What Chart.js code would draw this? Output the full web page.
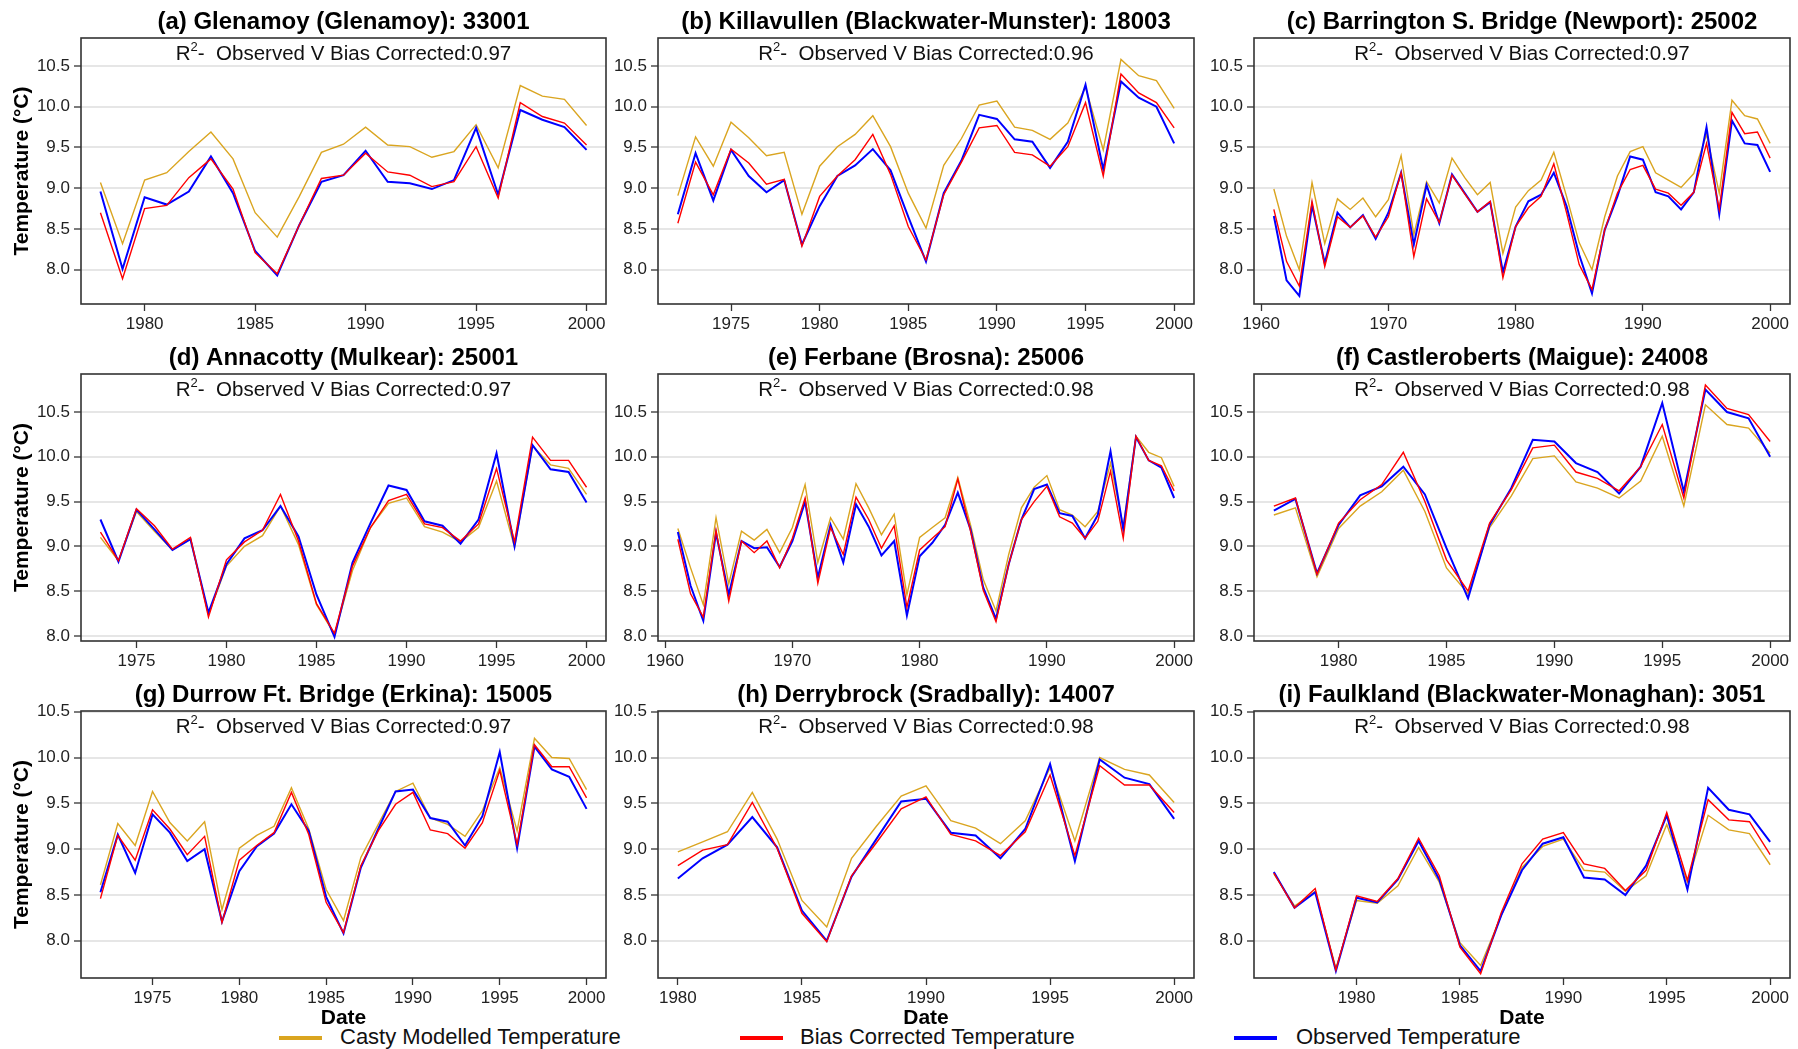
<!DOCTYPE html>
<html>
<head>
<meta charset="utf-8">
<script src="https://cdn.jsdelivr.net/npm/chart.js@4"></script>
<style>
  body { margin: 0; background: #fff; width: 1798px; height: 1049px; position: relative; overflow: hidden;
         font-family: "Liberation Sans", Arial, sans-serif; }
  canvas.panel { position: absolute; }
  .sw { position: absolute; height: 4px; top: 1036px; }
  .lt { position: absolute; top: 1024px; font-size: 22px; line-height: 26px; color: #111; white-space: nowrap; }
</style>
</head>
<body>
<div class="sw" style="left:279px;width:43px;background:#DAA520"></div>
<div class="lt" style="left:340px">Casty Modelled Temperature</div>
<div class="sw" style="left:740px;width:43px;background:#FF0000"></div>
<div class="lt" style="left:800px">Bias Corrected Temperature</div>
<div class="sw" style="left:1234px;width:43px;background:#0000FF"></div>
<div class="lt" style="left:1296px">Observed Temperature</div>
<script>
/*------------------------------*/
/*   DATA (annual mean, deg C)  */
/*------------------------------*/
// (a) Glenamoy
var startA = 1978
var castyA = [9.07, 8.32, 9.10, 9.19, 9.45, 9.69, 9.36, 8.70, 8.40, 8.90, 9.44, 9.54, 9.75, 9.53, 9.51, 9.38, 9.45, 9.78, 9.25, 10.26, 10.13, 10.09, 9.77]
var biasA  = [8.70, 7.89, 8.75, 8.79, 9.13, 9.36, 8.99, 8.21, 7.95, 8.55, 9.12, 9.16, 9.43, 9.20, 9.16, 9.02, 9.08, 9.51, 8.88, 10.05, 9.88, 9.80, 9.53]
var obsA   = [8.96, 8.01, 8.89, 8.80, 8.96, 9.39, 8.94, 8.23, 7.93, 8.55, 9.08, 9.16, 9.46, 9.08, 9.06, 8.99, 9.10, 9.74, 8.92, 9.96, 9.84, 9.75, 9.47]
// (b) Killavullen
var startB = 1972
var castyB = [8.91, 9.63, 9.27, 9.81, 9.62, 9.40, 9.44, 8.68, 9.27, 9.51, 9.66, 9.89, 9.51, 8.94, 8.51, 9.28, 9.61, 10.02, 10.07, 9.75, 9.71, 9.60, 9.80, 10.24, 9.47, 10.58, 10.38, 10.32, 9.98]
var biasB  = [8.57, 9.32, 8.92, 9.48, 9.31, 9.05, 9.11, 8.29, 8.90, 9.15, 9.35, 9.66, 9.17, 8.53, 8.12, 8.92, 9.32, 9.74, 9.77, 9.44, 9.41, 9.27, 9.51, 10.05, 9.15, 10.40, 10.17, 10.05, 9.74]
var obsB   = [8.68, 9.43, 8.85, 9.47, 9.15, 8.95, 9.10, 8.31, 8.78, 9.15, 9.28, 9.48, 9.22, 8.65, 8.10, 8.94, 9.34, 9.90, 9.85, 9.60, 9.57, 9.25, 9.57, 10.27, 9.23, 10.31, 10.11, 10.00, 9.55]
// (c) Barrington S. Bridge
var startC = 1961
var castyC = [8.99, 8.41, 8.00, 9.07, 8.32, 8.87, 8.74, 8.88, 8.65, 8.86, 9.40, 8.43, 9.08, 8.82, 9.37, 9.13, 8.92, 9.07, 8.20, 8.77,
              8.97, 9.10, 9.44, 8.90, 8.33, 8.00, 8.65, 9.15, 9.45, 9.51, 9.19, 9.10, 9.01, 9.18, 9.66, 8.94, 10.08, 9.89, 9.85, 9.55]
var biasC  = [8.74, 8.10, 7.80, 8.84, 8.04, 8.65, 8.52, 8.66, 8.40, 8.65, 9.19, 8.16, 8.87, 8.58, 9.16, 8.93, 8.71, 8.84, 7.90, 8.53,
              8.76, 8.90, 9.30, 8.70, 8.06, 7.76, 8.49, 8.94, 9.23, 9.28, 8.99, 8.94, 8.79, 8.95, 9.55, 8.74, 9.93, 9.67, 9.69, 9.37]
var obsC   = [8.66, 7.87, 7.68, 8.79, 8.08, 8.70, 8.52, 8.67, 8.38, 8.70, 9.19, 8.31, 9.04, 8.57, 9.17, 8.94, 8.71, 8.83, 7.97, 8.53,
              8.84, 8.92, 9.19, 8.78, 8.18, 7.71, 8.49, 8.90, 9.39, 9.35, 8.95, 8.90, 8.74, 8.95, 9.75, 8.68, 9.83, 9.55, 9.53, 9.20]
// (d) Annacotty
var startD = 1973
var castyD = [9.10, 8.84, 9.39, 9.17, 8.96, 9.08, 8.24, 8.78, 9.00, 9.12, 9.45, 9.02, 8.35, 8.02, 8.73, 9.21, 9.48, 9.54, 9.22, 9.16, 9.05, 9.21, 9.73, 8.99, 10.12, 9.91, 9.87, 9.58]
var biasD  = [9.16, 8.84, 9.42, 9.23, 8.97, 9.10, 8.21, 8.85, 9.05, 9.18, 9.58, 9.06, 8.36, 8.03, 8.78, 9.21, 9.51, 9.58, 9.25, 9.21, 9.06, 9.25, 9.87, 9.05, 10.22, 9.96, 9.96, 9.66]
var obsD   = [9.30, 8.83, 9.41, 9.19, 8.96, 9.08, 8.26, 8.80, 9.09, 9.18, 9.45, 9.11, 8.46, 7.99, 8.82, 9.26, 9.68, 9.63, 9.28, 9.23, 9.03, 9.30, 10.04, 9.00, 10.13, 9.86, 9.83, 9.49]
// (e) Ferbane
var startE = 1961
var castyE = [9.20, 8.76, 8.35, 9.32, 8.58, 9.17, 9.07, 9.19, 8.93, 9.21, 9.69, 8.82, 9.32, 9.08, 9.70, 9.43, 9.13, 9.36, 8.46, 9.10,
              9.21, 9.32, 9.77, 9.24, 8.63, 8.28, 8.91, 9.43, 9.66, 9.79, 9.41, 9.35, 9.22, 9.39, 9.93, 9.22, 10.23, 10.05, 9.99, 9.67]
var biasE  = [9.08, 8.47, 8.21, 9.18, 8.39, 9.06, 8.93, 9.06, 8.76, 9.09, 9.54, 8.59, 9.21, 8.91, 9.55, 9.30, 8.98, 9.23, 8.32, 8.96,
              9.09, 9.22, 9.75, 9.17, 8.51, 8.16, 8.80, 9.30, 9.50, 9.67, 9.33, 9.26, 9.09, 9.28, 9.84, 9.09, 10.23, 9.96, 9.90, 9.62]
var obsE   = [9.16, 8.56, 8.17, 9.15, 8.46, 9.06, 8.98, 8.99, 8.77, 9.06, 9.50, 8.65, 9.24, 8.82, 9.47, 9.22, 8.90, 9.06, 8.23, 8.89,
              9.04, 9.24, 9.60, 9.19, 8.54, 8.19, 8.80, 9.30, 9.64, 9.69, 9.37, 9.34, 9.09, 9.35, 10.06, 9.19, 10.22, 9.96, 9.88, 9.54]
// (f) Castleroberts
var startF = 1977
var castyF = [9.35, 9.43, 8.66, 9.20, 9.45, 9.61, 9.85, 9.39, 8.76, 8.47, 9.21, 9.56, 9.98, 10.01, 9.72, 9.65, 9.54, 9.73, 10.23, 9.45, 10.58, 10.36, 10.32, 10.04]
var biasF  = [9.45, 9.54, 8.69, 9.26, 9.52, 9.69, 10.05, 9.50, 8.85, 8.50, 9.26, 9.63, 10.10, 10.13, 9.83, 9.76, 9.62, 9.89, 10.36, 9.54, 10.80, 10.54, 10.47, 10.17]
var obsF   = [9.40, 9.53, 8.70, 9.24, 9.57, 9.67, 9.89, 9.58, 8.98, 8.42, 9.24, 9.65, 10.19, 10.17, 9.93, 9.83, 9.59, 9.89, 10.60, 9.61, 10.75, 10.50, 10.43, 10.00]
// (g) Durrow Ft. Bridge
var startG = 1972
var castyG = [8.61, 9.28, 9.04, 9.63, 9.29, 9.09, 9.30, 8.34, 9.01, 9.15, 9.25, 9.67, 9.22, 8.56, 8.22, 8.91, 9.27, 9.63, 9.72, 9.34, 9.27, 9.14, 9.42, 9.89, 9.20, 10.21, 10.00, 9.99, 9.65]
var biasG  = [8.46, 9.15, 8.88, 9.43, 9.22, 8.94, 9.14, 8.20, 8.88, 9.04, 9.18, 9.62, 9.16, 8.42, 8.09, 8.82, 9.20, 9.49, 9.62, 9.21, 9.17, 9.01, 9.29, 9.86, 9.05, 10.14, 9.90, 9.90, 9.56]
var obsG   = [8.53, 9.16, 8.74, 9.38, 9.18, 8.87, 9.00, 8.21, 8.76, 9.03, 9.17, 9.49, 9.20, 8.48, 8.08, 8.80, 9.22, 9.63, 9.65, 9.34, 9.30, 9.04, 9.36, 10.06, 9.01, 10.12, 9.87, 9.79, 9.44]
// (h) Derrybrock
var startH = 1980
var castyH = [8.97, 9.08, 9.19, 9.62, 9.11, 8.44, 8.15, 8.90, 9.25, 9.58, 9.69, 9.31, 9.23, 9.06, 9.31, 9.89, 9.09, 10.00, 9.87, 9.81, 9.51]
var biasH  = [8.82, 8.99, 9.05, 9.51, 9.01, 8.30, 7.99, 8.71, 9.07, 9.44, 9.57, 9.16, 9.09, 8.93, 9.19, 9.81, 8.93, 9.91, 9.70, 9.70, 9.40]
var obsH   = [8.68, 8.90, 9.05, 9.35, 9.02, 8.33, 8.00, 8.70, 9.11, 9.52, 9.55, 9.18, 9.15, 8.90, 9.22, 9.93, 8.87, 9.98, 9.78, 9.71, 9.33]
// (i) Faulkland
var startI = 1976
var castyI = [8.73, 8.38, 8.54, 7.70, 8.44, 8.41, 8.60, 9.02, 8.64, 7.98, 7.73, 8.28, 8.80, 9.03, 9.11, 8.77, 8.75, 8.54, 8.71, 9.27, 8.64, 9.37, 9.21, 9.17, 8.83]
var biasI  = [8.74, 8.36, 8.57, 7.68, 8.49, 8.43, 8.68, 9.12, 8.71, 7.93, 7.64, 8.31, 8.84, 9.11, 9.18, 8.84, 8.79, 8.55, 8.77, 9.40, 8.66, 9.54, 9.32, 9.30, 8.94]
var obsI   = [8.75, 8.36, 8.53, 7.67, 8.47, 8.42, 8.67, 9.09, 8.67, 7.95, 7.67, 8.28, 8.77, 9.06, 9.13, 8.69, 8.67, 8.50, 8.82, 9.37, 8.56, 9.67, 9.43, 9.38, 9.08]

// tick labels
var yTicks = [8.0, 8.5, 9.0, 9.5, 10.0, 10.5]
var ticks1980 = [1980, 1985, 1990, 1995, 2000]
var ticks1975 = [1975, 1980, 1985, 1990, 1995, 2000]
var ticks1960 = [1960, 1970, 1980, 1990, 2000]
var r2Values = ['0.97', '0.96', '0.97', '0.97', '0.98', '0.98', '0.97', '0.98', '0.98']
var titles = [
  '(a) Glenamoy (Glenamoy): 33001',
  '(b) Killavullen (Blackwater-Munster): 18003',
  '(c) Barrington S. Bridge (Newport): 25002',
  '(d) Annacotty (Mulkear): 25001',
  '(e) Ferbane (Brosna): 25006',
  '(f) Castleroberts (Maigue): 24008',
  '(g) Durrow Ft. Bridge (Erkina): 15005',
  '(h) Derrybrock (Sradbally): 14007',
  '(i) Faulkland (Blackwater-Monaghan): 3051'
]

/*------------------------------*/
/*           LAYOUT             */
/*------------------------------*/
var FONT = '"Liberation Sans", Arial, sans-serif'
var COLS = [[81, 606], [658, 1194], [1254, 1790]]
var ROWS = [[38, 304], [374, 641], [711, 978]]
var YRANGE = [[7.58, 10.843], [7.944, 10.924], [7.594, 10.508]]

var panels = [
  {start: startA, casty: castyA, bias: biasA, obs: obsA, xTicks: ticks1980},
  {start: startB, casty: castyB, bias: biasB, obs: obsB, xTicks: ticks1975},
  {start: startC, casty: castyC, bias: biasC, obs: obsC, xTicks: ticks1960},
  {start: startD, casty: castyD, bias: biasD, obs: obsD, xTicks: ticks1975},
  {start: startE, casty: castyE, bias: biasE, obs: obsE, xTicks: ticks1960},
  {start: startF, casty: castyF, bias: biasF, obs: obsF, xTicks: ticks1980},
  {start: startG, casty: castyG, bias: biasG, obs: obsG, xTicks: ticks1975},
  {start: startH, casty: castyH, bias: biasH, obs: obsH, xTicks: ticks1980},
  {start: startI, casty: castyI, bias: biasI, obs: obsI, xTicks: ticks1980}
]

function toPoints(start, values) {
  return values.map(function (v, i) { return {x: start + i, y: v} })
}

// box, title, R2 text, axis titles
var deco = {
  id: 'deco',
  afterDatasetsDraw: function (chart, args, o) {
    var ctx = chart.ctx, a = chart.chartArea
    var cx = (a.left + a.right) / 2
    ctx.save()
    ctx.strokeStyle = '#333'
    ctx.lineWidth = 1.6
    ctx.strokeRect(a.left, a.top, a.right - a.left, a.bottom - a.top)

    ctx.fillStyle = '#000'
    ctx.textAlign = 'center'
    ctx.textBaseline = 'alphabetic'
    ctx.font = 'bold 24px ' + FONT
    ctx.fillText(o.title, cx, a.top - 9)

    // R² - Observed V Bias Corrected
    var base = a.top + 22
    var rest = '-  Observed V Bias Corrected:' + o.r2
    ctx.font = '20.5px ' + FONT
    var wR = ctx.measureText('R').width
    var wRest = ctx.measureText(rest).width
    ctx.font = '13px ' + FONT
    var w2 = ctx.measureText('2').width
    var x = cx - (wR + w2 + wRest) / 2
    ctx.textAlign = 'left'
    ctx.fillStyle = '#111'
    ctx.font = '20.5px ' + FONT
    ctx.fillText('R', x, base)
    x += wR
    ctx.font = '13px ' + FONT
    ctx.fillText('2', x, base - 9)
    x += w2
    ctx.font = '20.5px ' + FONT
    ctx.fillText(rest, x, base)

    ctx.fillStyle = '#000'
    ctx.textAlign = 'center'
    ctx.font = 'bold 21px ' + FONT
    if (o.yTitle) {
      ctx.save()
      ctx.translate(22, (a.top + a.bottom) / 2)
      ctx.rotate(-Math.PI / 2)
      ctx.textBaseline = 'middle'
      ctx.fillText('Temperature (\u00B0C)', 0, 0)
      ctx.restore()
    }
    if (o.date) {
      ctx.fillText('Date', cx, a.bottom + 46)
    }
    ctx.restore()
  }
}

Chart.defaults.font.family = FONT
Chart.defaults.color = '#222'

panels.forEach(function (p, k) {
  var row = Math.floor(k / 3), col = k % 3
  var yw = col === 0 ? COLS[0][0] : 64
  var topSpace = 40, rightPad = 24
  var xh = row === 2 ? 56 : 32
  var plotW = COLS[col][1] - COLS[col][0]
  var plotH = ROWS[row][1] - ROWS[row][0]

  var cv = document.createElement('canvas')
  cv.className = 'panel'
  cv.width = yw + plotW + rightPad
  cv.height = topSpace + plotH + xh
  cv.style.left = (COLS[col][0] - yw) + 'px'
  cv.style.top = (ROWS[row][0] - topSpace) + 'px'
  document.body.appendChild(cv)

  var end = p.start + p.casty.length - 1
  var span = end - p.start

  var data_panel = {
    datasets: [
      {label: 'Bias Corrected Temperature', data: toPoints(p.start, p.bias),
       borderColor: '#FF0000', borderWidth: 1.4, pointRadius: 0, order: 0},
      {label: 'Observed Temperature', data: toPoints(p.start, p.obs),
       borderColor: '#0000FF', borderWidth: 2, pointRadius: 0, order: 1},
      {label: 'Casty Modelled Temperature', data: toPoints(p.start, p.casty),
       borderColor: '#DAA520', borderWidth: 1.4, pointRadius: 0, order: 2}
    ]
  }

  new Chart(cv.getContext('2d'), {
    type: 'line',
    data: data_panel,
    options: {
      responsive: false,
      animation: false,
      layout: {padding: {top: topSpace, right: rightPad, left: 0, bottom: 0}},
      plugins: {
        legend: {display: false},
        tooltip: {enabled: false},
        deco: {title: titles[k], r2: r2Values[k], yTitle: col === 0, date: row === 2}
      },
      scales: {
        x: {
          type: 'linear',
          min: p.start - 0.04 * span,
          max: end + 0.04 * span,
          afterBuildTicks: function (s) { s.ticks = p.xTicks.map(function (v) { return {value: v} }) },
          afterFit: function (s) { s.height = xh },
          grid: {drawOnChartArea: false, tickColor: '#333', tickWidth: 1.3, tickLength: 7},
          border: {display: false},
          ticks: {callback: function (v) { return String(v) }, maxRotation: 0, autoSkip: false,
                  padding: 3, font: {size: 17}}
        },
        y: {
          type: 'linear',
          min: YRANGE[row][0],
          max: YRANGE[row][1],
          afterBuildTicks: function (s) { s.ticks = yTicks.map(function (v) { return {value: v} }) },
          afterFit: function (s) { s.width = yw },
          grid: {color: '#e6e6e6', lineWidth: 2, tickColor: '#333', tickWidth: 1.3, tickLength: 7},
          border: {display: false},
          ticks: {callback: function (v) { return Number(v).toFixed(1) }, padding: 4, font: {size: 17}}
        }
      }
    },
    plugins: [deco]
  })
})
</script>
</body>
</html>
